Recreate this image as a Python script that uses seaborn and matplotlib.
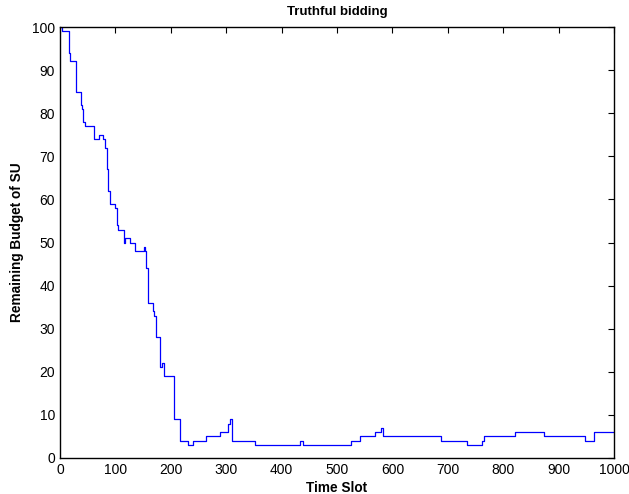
import matplotlib
matplotlib.use("Agg")
import matplotlib.pyplot as plt
import seaborn as sns
import pandas as pd

# Step change points (time slot, remaining budget)
time_slot = [0, 3, 16, 18, 29, 38, 40, 42, 45, 48, 62, 71, 78, 82, 84, 87, 91, 100,
             102, 104, 115, 117, 119, 126, 128, 135, 152, 154, 156, 159, 162, 167, 170,
             173, 181, 184, 188, 206, 210, 216, 231, 240, 264, 289, 304, 307, 310,
             352, 433, 439, 526, 541, 568, 579, 583, 688, 735, 762, 766, 821, 874,
             948, 964, 1000]
budget = [100, 99, 94, 92, 85, 82, 81, 78, 77, 77, 74, 75, 74, 72, 67, 62, 59, 58,
          54, 53, 50, 51, 51, 50, 50, 48, 49, 48, 44, 36, 36, 34, 33,
          28, 21, 22, 19, 9, 9, 4, 3, 4, 5, 6, 8, 9, 4,
          3, 4, 3, 4, 5, 6, 7, 5, 4, 3, 4, 5, 6, 5,
          4, 6, 6]

df = pd.DataFrame({"Time Slot": time_slot, "Budget": budget})

sns.set_theme(style="white")
plt.rcParams["font.family"] = ["Liberation Sans", "DejaVu Sans"]
plt.rcParams["text.color"] = "black"
plt.rcParams["axes.labelcolor"] = "black"

fig = plt.figure(figsize=(6.29, 4.94), dpi=100)
ax = fig.add_axes([0.0954, 0.0729, 0.8808, 0.8724])

sns.lineplot(data=df, x="Time Slot", y="Budget", ax=ax, drawstyle="steps-post",
             color="#0000ff", linewidth=0.9)

ax.set_xlim(0, 1000)
ax.set_ylim(0, 100)
ax.set_xticks(range(0, 1001, 100))
ax.set_yticks(range(0, 101, 10))
ax.tick_params(direction="in", length=4, width=0.8, top=True, right=True,
               labelsize=10, colors="black", pad=3.5)
for s in ax.spines.values():
    s.set_visible(True)
    s.set_color("black")
    s.set_linewidth(1.0)

ax.set_title("Truthful bidding", fontsize=9.5, fontweight="bold", pad=9, color="black")
ax.set_xlabel("Time Slot", fontsize=9.8, fontweight="bold", labelpad=3, color="black")
ax.set_ylabel("Remaining Budget of SU", fontsize=9.8, fontweight="bold", labelpad=6,
              color="black")

fig.savefig("out.png", dpi=100)
